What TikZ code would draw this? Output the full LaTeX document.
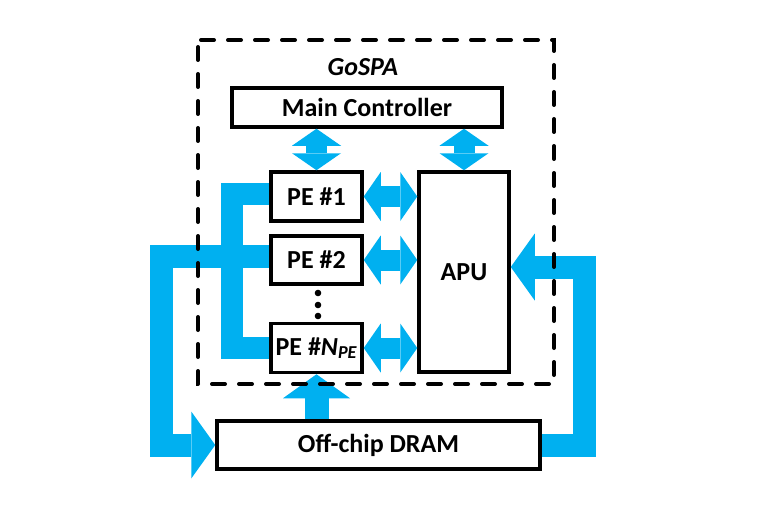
\documentclass[tikz,border=0pt]{standalone}
\usepackage{fontspec}
\setmainfont{Carlito}
\usetikzlibrary{calc}
\usetikzlibrary{positioning}
\usetikzlibrary{arrows.meta}

\definecolor{busblue}{HTML}{00B0F0}

\begin{document}
\begin{tikzpicture}[%
  x=1pt, y=-1pt,
  font=\fontsize{26}{31}\selectfont\bfseries,
  block/.style={draw, line width=3.5pt, fill=white, inner sep=0pt},
  link/.style={busblue, line width=21pt,
    {Triangle[width=49pt,length=17pt,line width=0pt]}-{Triangle[width=49pt,length=17pt,line width=0pt]}},
  feed/.style={busblue, line width=23pt,
    -{Triangle[width=67pt,length=24pt,line width=0pt]}},
  bus/.style={busblue, line width=22pt},
  chip/.style={line width=4pt, dash pattern=on 13pt off 14pt, dash phase=20pt, line cap=round},
]

  \useasboundingbox (0,0) rectangle (768,508);

  \node[block, minimum width=270pt, minimum height=39pt] (mc) at (367,107.5) {Main Controller};
  \node[block, minimum width=91pt, minimum height=49pt] (pe1) at (316.5,196.5) {PE \#1};
  \node[block, minimum width=91pt, minimum height=48pt] (pe2) at (316.5,260) {PE \#2};
  \node[block, minimum width=91pt, minimum height=49pt] (peN) at (316.5,348)
    {PE \#\textit{N}\textsubscript{\textit{PE}}};
  \node[block, minimum width=90pt, minimum height=200pt] (apu) at (464,272) {APU};
  \node[block, minimum width=323pt, minimum height=48pt] (dram) at (378.5,445) {Off-chip DRAM};
  \node (gospa) at (363,67) {\textit{GoSPA}};

  \foreach \y in {293,305,316}
    \fill (318,\y) circle (3.3pt);

  \coordinate (busin) at (232,0);
  \coordinate (busout) at (161.5,0);
  \coordinate (busright) at (584.5,0);
  \coordinate (pe1in) at ([yshift=3pt]pe1.west);
  \coordinate (pe2in) at ([yshift=4pt]pe2.west);
  \coordinate (apuin) at ([yshift=5pt]apu.east);

  \draw[bus] (pe1in) -- (pe1in -| busin) -- (peN.west -| busin) -- (peN.west);
  \draw[feed] (pe2in) -- (pe2in -| busout) -- (dram.west -| busout) -- (dram.west);
  \draw[feed] (dram.east) -- (dram.east -| busright) -- (apuin -| busright) -- (apuin);
  \draw[feed, line width=24pt] (dram.north -| peN) -- (peN.south);

  \draw[link] (pe1.north) -- (pe1.north |- mc.south);
  \draw[link] (apu.north) -- (apu.north |- mc.south);
  \foreach \pe in {pe1,pe2,peN}
    \draw[link] (\pe.east) -- (\pe.east -| apu.west);

  \draw[chip] (198,40) rectangle (554,384);

\end{tikzpicture}
\end{document}
